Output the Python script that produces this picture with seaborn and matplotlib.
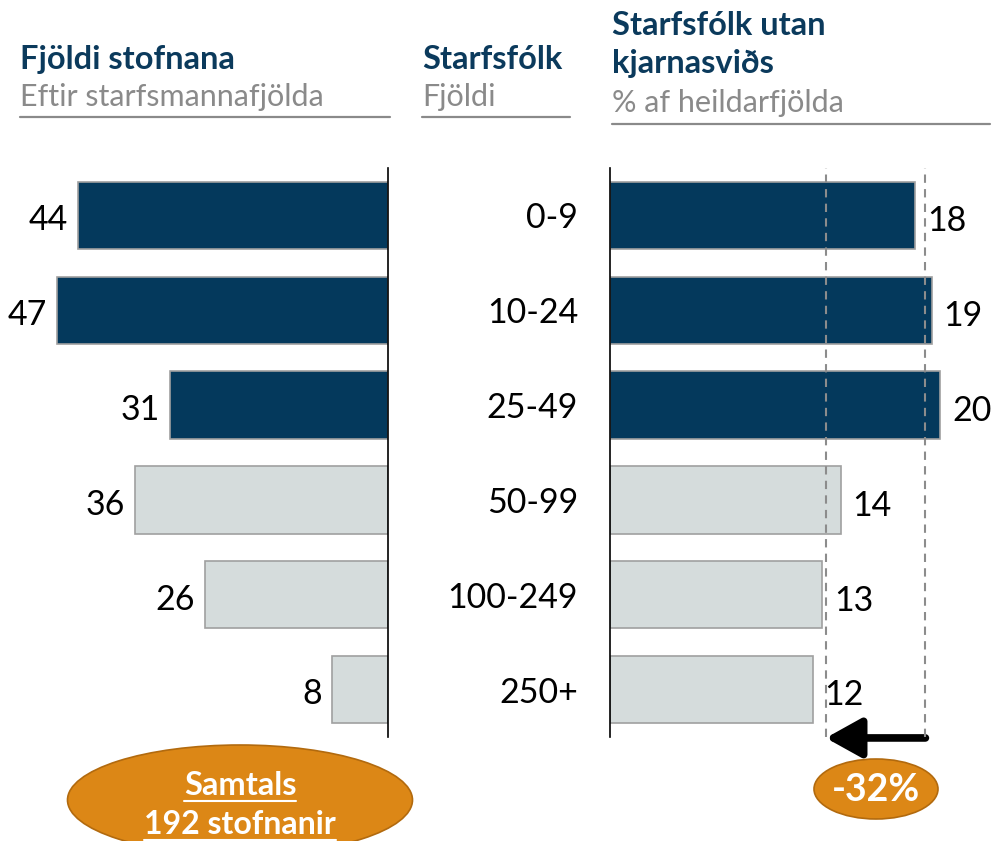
import pandas as pd
import seaborn as sns
import matplotlib.pyplot as plt
from matplotlib.lines import Line2D
from matplotlib.patches import Ellipse

# === Data ===
size_groups = ["0-9", "10-24", "25-49", "50-99", "100-249", "250+"]
n_institutions = [44, 47, 31, 36, 26, 8]
non_core_share = [18.4, 19.4, 19.9, 13.9, 12.8, 12.2]
small_avg = 19
large_avg = 13
change_label = "-32%"
total_label = ["Samtals", "192 stofnanir"]

dark = "#04395c"
light = "#d5dcdc"
bar_colors = [dark, dark, dark, light, light, light]
header_blue = "#0b3a5c"
header_grey = "#8a8a8a"
orange = "#dc8716"

df = pd.DataFrame({"group": size_groups, "count": n_institutions, "share": non_core_share})
palette = dict(zip(size_groups, bar_colors))

sns.set_style("white")
plt.rcParams["font.family"] = ["Lato", "DejaVu Sans"]

W, H = 992, 841
fig = plt.figure(figsize=(W / 100, H / 100), dpi=100)


def fx(x):
    return x / W


def fy(y):
    return 1 - y / H


ax_bottom = fy(737)
ax_height = (737 - 168) / H

# === Left panel: number of institutions ===
ax1 = fig.add_axes([fx(20), ax_bottom, (388 - 20) / W, ax_height])
sns.barplot(data=df, x="count", y="group", hue="group", palette=palette, legend=False,
            saturation=1, width=0.71, edgecolor="#a0a0a0", linewidth=1.2, ax=ax1)
ax1.set_xlim((388 - 20) / 7.04, 0)
ax1.set_ylim(5.5, -0.5)
ax1.set_xlabel("")
ax1.set_ylabel("")
ax1.set_xticks([])
ax1.set_yticks([])
for s in ["left", "top", "bottom"]:
    ax1.spines[s].set_visible(False)
ax1.spines["right"].set_color("black")
ax1.spines["right"].set_linewidth(1.2)
for i, v in enumerate(n_institutions):
    ax1.text(v + 1.4, i + 0.02, f"{v}", ha="right", va="center_baseline", fontsize=24.5, color="black")

# === Right panel: share of staff outside core ===
ax2 = fig.add_axes([fx(610), ax_bottom, (W - 610) / W, ax_height])
sns.barplot(data=df, x="share", y="group", hue="group", palette=palette, legend=False,
            saturation=1, width=0.71, edgecolor="#a0a0a0", linewidth=1.2, ax=ax2)
ax2.set_xlim(0, (W - 610) / 16.6)
ax2.set_ylim(5.5, -0.5)
ax2.set_xlabel("")
ax2.set_ylabel("")
ax2.set_xticks([])
ax2.tick_params(axis="y", length=0, pad=23, labelsize=24.5, labelcolor="black")
for s in ["right", "top", "bottom"]:
    ax2.spines[s].set_visible(False)
ax2.spines["left"].set_color("black")
ax2.spines["left"].set_linewidth(1.2)
for i, v in enumerate(non_core_share):
    ax2.text(v + 0.7, i + 0.03, f"{v:.0f}", ha="left", va="center_baseline", fontsize=24.5, color="black")

for ref in [small_avg, large_avg]:
    ax2.axvline(ref, color="#8c8c8c", lw=1.5, ls=(0, (4, 3)), zorder=5)
ax2.annotate("", xy=(large_avg, 5.51), xytext=(small_avg, 5.51),
             arrowprops=dict(arrowstyle="-|>,head_length=0.9,head_width=0.5", lw=5.5,
                             color="black", shrinkA=0, shrinkB=0, mutation_scale=24),
             annotation_clip=False)

# === Headers ===
fig.text(fx(20), fy(69), "Fjöldi stofnana", fontsize=23.5, fontweight="bold", color=header_blue, va="baseline")
fig.text(fx(20), fy(106), "Eftir starfsmannafjölda", fontsize=22, color=header_grey, va="baseline")
fig.text(fx(422), fy(69), "Starfsfólk", fontsize=23.5, fontweight="bold", color=header_blue, va="baseline")
fig.text(fx(422), fy(106), "Fjöldi", fontsize=22, color=header_grey, va="baseline")
fig.text(fx(612), fy(35), "Starfsfólk utan", fontsize=23.5, fontweight="bold", color=header_blue, va="baseline")
fig.text(fx(612), fy(73), "kjarnasviðs", fontsize=23.5, fontweight="bold", color=header_blue, va="baseline")
fig.text(fx(612), fy(112), "% af heildarfjölda", fontsize=22, color=header_grey, va="baseline")
for x0, x1, y in [(20, 390, 117), (422, 570, 117), (612, 990, 124)]:
    fig.add_artist(Line2D([fx(x0), fx(x1)], [fy(y), fy(y)], color="#8a8a8a", lw=1.6))

# === Callouts ===
fig.add_artist(Ellipse((fx(240), fy(800)), 345 / W, 110 / H, transform=fig.transFigure,
                       facecolor=orange, edgecolor="#b26a0e", lw=1.2))
fig.add_artist(Ellipse((fx(876), fy(789)), 124 / W, 60 / H, transform=fig.transFigure,
                       facecolor=orange, edgecolor="#b26a0e", lw=1.2))
t1 = fig.text(fx(240), fy(795), total_label[0], fontsize=23.5, fontweight="bold", color="white",
              ha="center", va="baseline")
t2 = fig.text(fx(240), fy(834), total_label[1], fontsize=23, fontweight="bold", color="white",
              ha="center", va="baseline")
fig.text(fx(876), fy(801), change_label, fontsize=27, fontweight="bold", color="white",
         ha="center", va="baseline")

# underline the total label
fig.canvas.draw()
for t, y in [(t1, 801), (t2, 840)]:
    bb = t.get_window_extent()
    fig.add_artist(Line2D([bb.x0 / W, bb.x1 / W], [fy(y), fy(y)], color="white", lw=1.5))

plt.savefig("out.png", dpi=100)
